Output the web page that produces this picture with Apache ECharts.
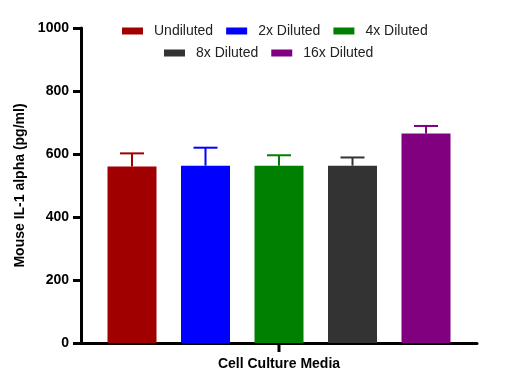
<!DOCTYPE html>
<html>
<head>
<meta charset="utf-8">
<script src="https://cdn.jsdelivr.net/npm/echarts@6/dist/echarts.min.js"></script>
<style>html,body{margin:0;padding:0;background:#fff;}#c{width:521px;height:389px;}</style>
</head>
<body>
<div id="c"></div>
<script>
const categories = ['Cell Culture Media'];
const seriesNames = ['Undiluted', '2x Diluted', '4x Diluted', '8x Diluted', '16x Diluted'];
const means = [560, 563, 563, 563, 665];
const errors = [42, 57, 33, 26, 24];
const yTicks = [0, 200, 400, 600, 800, 1000];
const colors = ['#A00000', '#0000FF', '#008000', '#333333', '#800080'];

const BAR_W = 49, GAP = 0.5, STEP = BAR_W * (1 + GAP);
const chart = echarts.init(document.getElementById('c'));

const barSeries = seriesNames.map((n, i) => ({
  name: n, type: 'bar', data: [means[i]],
  barWidth: BAR_W, barGap: (GAP * 100) + '%',
  itemStyle: { color: colors[i] }, z: 2
}));

const errData = seriesNames.map((n, i) => [0, means[i], errors[i], i]);

const errSeries = {
  type: 'custom', name: 'err', data: errData, encode: { x: 0, y: 1 }, z: 3, silent: true,
  renderItem: function (params, api) {
    const idx = api.value(3);
    const base = api.coord([api.value(0), api.value(1)]);
    const top = api.coord([api.value(0), api.value(1) + api.value(2)]);
    const x = base[0] + (idx - 2) * STEP;
    const half = 12;
    const st = { stroke: colors[idx], lineWidth: 2 };
    return { type: 'group', children: [
      { type: 'line', shape: { x1: x, y1: base[1], x2: x, y2: top[1] }, style: st },
      { type: 'line', shape: { x1: x - half, y1: top[1], x2: x + half, y2: top[1] }, style: st }
    ]};
  }
};

const legendCommon = { icon: 'rect', itemWidth: 21, itemHeight: 7, itemGap: 13, padding: 0,
  textStyle: { fontSize: 14, color: '#222', padding: [0, 0, 0, 6] } };

chart.setOption({
  animation: false,
  textStyle: { fontFamily: 'Liberation Sans, Arial, sans-serif' },
  legend: [
    Object.assign({ data: seriesNames.slice(0, 3), left: 122, top: 24 }, legendCommon),
    Object.assign({ data: seriesNames.slice(3), left: 164, top: 46 }, legendCommon)
  ],
  grid: { left: 81, right: 44, top: 28, bottom: 46, containLabel: false },
  xAxis: {
    type: 'category', data: categories,
    axisLine: { lineStyle: { color: '#000', width: 3 } },
    axisTick: { show: false },
    axisLabel: { fontSize: 14, fontWeight: 'bold', color: '#000', margin: 14 }
  },
  yAxis: {
    type: 'value', min: yTicks[0], max: yTicks[yTicks.length - 1], interval: 200,
    name: 'Mouse IL-1 alpha (pg/ml)', nameLocation: 'middle', nameGap: 48,
    nameTextStyle: { fontSize: 14, fontWeight: 'bold', color: '#000' },
    axisLine: { show: true, onZero: false, lineStyle: { color: '#000', width: 3 } },
    axisTick: { show: true, inside: false, length: 8, lineStyle: { color: '#000', width: 3 } },
    axisLabel: { fontSize: 14, fontWeight: 'bold', color: '#000', margin: 12, formatter: v => String(v) },
    splitLine: { show: false }
  },
  series: barSeries.concat([errSeries])
});

// single category tick at the centre of the category, positioned through the axis scale
const p = chart.convertToPixel({ xAxisIndex: 0, yAxisIndex: 0 }, [0, 0]);
chart.setOption({
  graphic: [{
    type: 'line', z: 100, silent: true,
    shape: { x1: p[0], y1: p[1], x2: p[0], y2: p[1] + 9 },
    style: { stroke: '#000', lineWidth: 3 }
  }]
});
</script>
</body>
</html>
